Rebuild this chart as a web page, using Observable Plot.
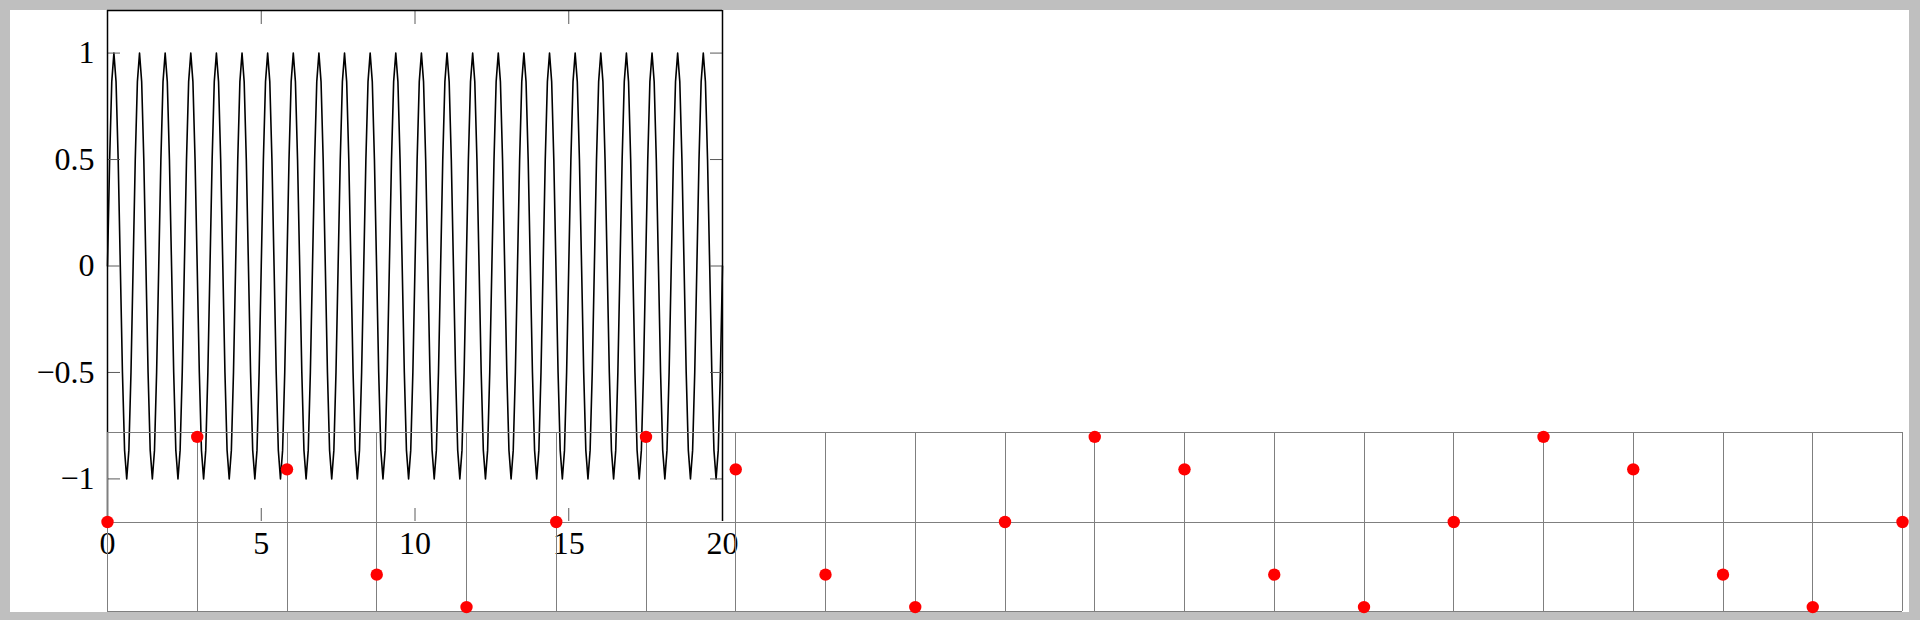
<!DOCTYPE html>
<html><head><meta charset="utf-8">
<script src="https://cdn.jsdelivr.net/npm/d3@7"></script>
<script src="https://cdn.jsdelivr.net/npm/@observablehq/plot@0.6"></script>
<style>
html,body{margin:0;padding:0;background:#bfbfbf;width:1920px;height:620px;overflow:hidden}
#page{position:absolute;left:10px;top:10px;width:1899px;height:602px;background:#fff}
#chart{position:absolute;left:0;top:0;width:1920px;height:620px}
#chart svg{position:absolute;left:0;top:0;overflow:visible}
</style></head><body><div id="page"></div><div id="chart"></div>
<script>
// ---- data ----
// sampled curve of the upper axis (x from 0 to 20, evenly spaced samples)
const sineXMax = 20;
const sineY = [
0,.5,.866,1,.866,.5,0,-.5,-.866,-1,-.866,-.5,
0,.5,.866,1,.866,.5,0,-.5,-.866,-1,-.866,-.5,
0,.5,.866,1,.866,.5,0,-.5,-.866,-1,-.866,-.5,
0,.5,.866,1,.866,.5,0,-.5,-.866,-1,-.866,-.5,
0,.5,.866,1,.866,.5,0,-.5,-.866,-1,-.866,-.5,
0,.5,.866,1,.866,.5,0,-.5,-.866,-1,-.866,-.5,
0,.5,.866,1,.866,.5,0,-.5,-.866,-1,-.866,-.5,
0,.5,.866,1,.866,.5,0,-.5,-.866,-1,-.866,-.5,
0,.5,.866,1,.866,.5,0,-.5,-.866,-1,-.866,-.5,
0,.5,.866,1,.866,.5,0,-.5,-.866,-1,-.866,-.5,
0,.5,.866,1,.866,.5,0,-.5,-.866,-1,-.866,-.5,
0,.5,.866,1,.866,.5,0,-.5,-.866,-1,-.866,-.5,
0,.5,.866,1,.866,.5,0,-.5,-.866,-1,-.866,-.5,
0,.5,.866,1,.866,.5,0,-.5,-.866,-1,-.866,-.5,
0,.5,.866,1,.866,.5,0,-.5,-.866,-1,-.866,-.5,
0,.5,.866,1,.866,.5,0,-.5,-.866,-1,-.866,-.5,
0,.5,.866,1,.866,.5,0,-.5,-.866,-1,-.866,-.5,
0,.5,.866,1,.866,.5,0,-.5,-.866,-1,-.866,-.5,
0,.5,.866,1,.866,.5,0,-.5,-.866,-1,-.866,-.5,
0,.5,.866,1,.866,.5,0,-.5,-.866,-1,-.866,-.5,
0,.5,.866,1,.866,.5,0,-.5,-.866,-1,-.866,-.5,
0,.5,.866,1,.866,.5,0,-.5,-.866,-1,-.866,-.5,
0,.5,.866,1,.866,.5,0,-.5,-.866,-1,-.866,-.5,
0,.5,.866,1,.866,.5,0,-.5,-.866,-1,-.866,-.5,
0
];
const topXTicks = [0, 5, 10, 15, 20];
const topYTicks = [-1, -0.5, 0, 0.5, 1];
const topXDomain = [0, 20];
const topYDomain = [-1.2, 1.2];

// red points of the lower grid axis
const dotX = [0,1,2,3,4,5,6,7,8,9,10,11,12,13,14,15,16,17,18,19,20];
const dotY = [0,0.951,0.588,-0.588,-0.951,0,0.951,0.588,-0.588,-0.951,0,0.951,0.588,-0.588,-0.951,0,0.951,0.588,-0.588,-0.951,0];
const gridXTicks = [0,1,2,3,4,5,6,7,8,9,10,11,12,13,14,15,16,17,18,19,20];
const gridYTicks = [-1, 0, 1];
const botXDomain = [0, 20];
const botYDomain = [-1, 1];

// ---- build ----
const W = 1920, H = 620;
const sine = sineY.map((y, i) => ({x: i * sineXMax / (sineY.length - 1), y}));
const dots = dotX.map((x, i) => ({x, y: dotY[i]}));
const fmt = d => d < 0 ? "\u2212" + (-d) : String(d);
const tickColor = "#5a5a5a";

const topPlot = Plot.plot({
  width: W, height: H,
  marginLeft: 107, marginRight: W - 722, marginTop: 10, marginBottom: H - 521,
  style: {background: "transparent", fontFamily: "'Liberation Serif', serif", fontSize: "32px", color: "black", overflow: "visible"},
  x: {domain: topXDomain, label: null},
  y: {domain: topYDomain, label: null},
  marks: [
    Plot.line(sine, {x: "x", y: "y", stroke: "black", strokeWidth: 1.6}),
    Plot.axisY(topYTicks, {anchor: "left", tickSize: -13, fill: "none", stroke: tickColor, label: null}),
    Plot.axisY(topYTicks, {anchor: "right", tickSize: -13, fill: "none", stroke: tickColor, label: null}),
    Plot.axisX(topXTicks, {anchor: "bottom", tickSize: -13, fill: "none", stroke: tickColor, label: null}),
    Plot.axisX(topXTicks, {anchor: "top", tickSize: -13, fill: "none", stroke: tickColor, label: null}),
    Plot.axisY(topYTicks, {anchor: "left", tickSize: 0, tickPadding: 13, fill: "black", tickFormat: fmt, label: null, fontSize: 32}),
    Plot.axisX(topXTicks, {anchor: "bottom", tickSize: 0, tickPadding: 10, fill: "black", tickFormat: fmt, label: null, fontSize: 32}),
    Plot.ruleX(topXDomain, {stroke: "black", strokeWidth: 1.5}),
    Plot.ruleY([topYDomain[1]], {stroke: "black", strokeWidth: 1.5})
  ]
});

const botPlot = Plot.plot({
  width: W, height: H,
  marginLeft: 107, marginRight: W - 1902, marginTop: 432, marginBottom: H - 611,
  style: {background: "transparent", overflow: "visible"},
  x: {domain: botXDomain, label: null, axis: null},
  y: {domain: botYDomain, label: null, axis: null},
  marks: [
    Plot.gridX(gridXTicks, {stroke: "#7f7f7f", strokeOpacity: 1, strokeWidth: 1, shapeRendering: "crispEdges"}),
    Plot.gridY(gridYTicks, {stroke: "#7f7f7f", strokeOpacity: 1, strokeWidth: 1, shapeRendering: "crispEdges"}),
    Plot.dot(dots, {x: "x", y: "y", r: 6.2, fill: "#ff0000", stroke: "none"})
  ]
});

const chart = document.getElementById("chart");
chart.appendChild(topPlot);
chart.appendChild(botPlot);
</script></body></html>
